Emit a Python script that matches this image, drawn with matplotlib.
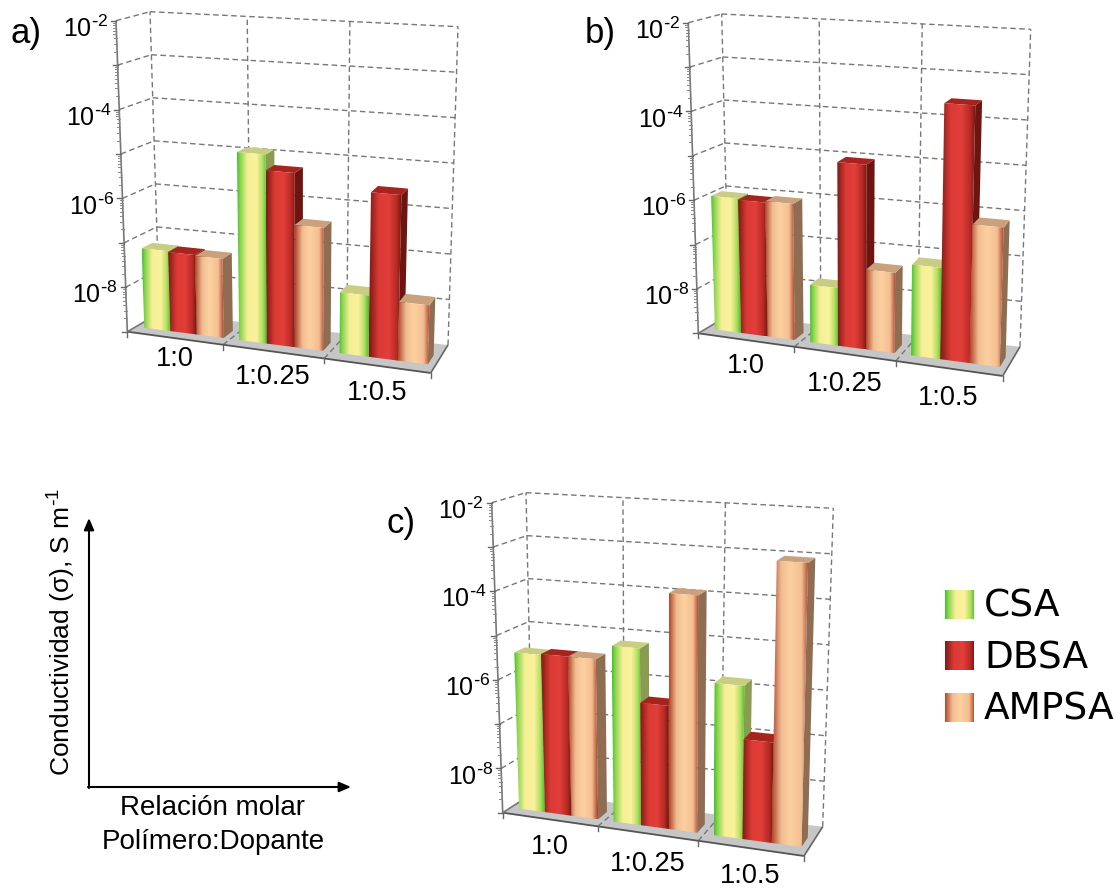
import numpy as np
import matplotlib
matplotlib.use('Agg')
import matplotlib.pyplot as plt
from matplotlib.colors import LinearSegmentedColormap
from matplotlib.patches import Polygon

plt.rcParams['font.family'] = ['Liberation Sans', 'DejaVu Sans']
plt.rcParams['mathtext.default'] = 'regular'

groups = ['1:0', '1:0.25', '1:0.5']
dopants = ['CSA', 'DBSA', 'AMPSA']

# log10 of conductivity, rows are groups, columns are dopants
log_sigma_a = [[-7.20, -7.22, -7.24], [-4.83, -5.18, -6.32], [-7.68, -5.45, -7.74]]
log_sigma_b = [[-5.97, -6.00, -5.97], [-7.73, -4.95, -7.25], [-7.03, -3.48, -6.03]]
log_sigma_c = [[-5.45, -5.43, -5.43], [-5.10, -6.30, -3.83], [-5.70, -6.85, -2.96]]

major_exp = [-2, -4, -6, -8]
log_min, log_max = -9, -2

# box corners in pixels: front/back, left/right, bottom/top
box_a = dict(flb=(127.3, 331.7), flt=(116.0, 20.7), blb=(159.5, 313.0), blt=(150.0, 11.7),
             frb=(430.7, 373.0), brb=(448.0, 345.0), brt=(458.0, 26.7))
box_b = dict(flb=(698.3, 333.3), flt=(688.3, 22.7), blb=(729.0, 315.0), blt=(721.7, 14.0),
             frb=(1002.7, 376.0), brb=(1020.0, 346.7), brt=(1030.7, 29.3))
box_c = dict(flb=(502.7, 812.7), flt=(491.7, 502.7), blb=(532.7, 793.3), blt=(526.0, 492.7),
             frb=(804.0, 856.0), brb=(822.7, 826.7), brt=(833.3, 508.3))

cmaps = {
    'CSA': LinearSegmentedColormap.from_list('csa', [(0, '#3fc42a'), (0.12, '#8fd64f'), (0.35, '#f5ef96'),
                                                     (0.65, '#fbf39c'), (0.85, '#b5de62'), (1, '#3fc42a')]),
    'DBSA': LinearSegmentedColormap.from_list('dbsa', [(0, '#7c1a14'), (0.3, '#dc3a35'), (0.6, '#e23e3a'),
                                                       (0.85, '#b52a24'), (1, '#6f1610')]),
    'AMPSA': LinearSegmentedColormap.from_list('ampsa', [(0, '#b2472c'), (0.25, '#f0bd92'), (0.5, '#fdd0a0'),
                                                         (0.8, '#f3bf92'), (1, '#ad3f26')]),
}
top_cols = {'CSA': '#c9cd83', 'DBSA': '#a5241e', 'AMPSA': '#c9a17c'}
side_cols = {'CSA': '#8b9c52', 'DBSA': '#6d1510', 'AMPSA': '#8f6d52'}

bar_start, bar_w = 0.09, 0.28
d_front, d_back = 0.27, 0.60

fig = plt.figure(figsize=(11.16, 8.88), dpi=100)
ax = fig.add_axes([0, 0, 1, 1])
z = [1]


def next_z():
    z[0] += 1
    return z[0]


def proj(box, x, d, v):
    # x in groups (0-3), d depth 0-1, v log10 value
    u = x / 3.0
    u = u * (0.92 + 0.08 * u)
    w = (v - log_min) / (log_max - log_min)
    out = []
    for i in (0, 1):
        fb = box['flb'][i] + (box['frb'][i] - box['flb'][i]) * u
        ft = box['flt'][i] + (box['frt'][i] - box['flt'][i]) * u
        bb = box['blb'][i] + (box['brb'][i] - box['blb'][i]) * u
        bt = box['blt'][i] + (box['brt'][i] - box['blt'][i]) * u
        bot = fb + (bb - fb) * d
        top = ft + (bt - ft) * d
        out.append(bot + (top - bot) * w)
    return out


def seg(box, a, b, **kw):
    p, q = proj(box, *a), proj(box, *b)
    ax.plot([p[0], q[0]], [p[1], q[1]], zorder=next_z(), solid_capstyle='butt', **kw)


def gradient_quad(pts, cmap):
    xs = [p[0] for p in pts]
    ys = [p[1] for p in pts]
    grad = np.linspace(0, 1, 256).reshape(1, -1)
    im = ax.imshow(grad, cmap=cmap, extent=(min(xs), max(xs), max(ys), min(ys)), aspect='auto',
                   interpolation='bilinear', zorder=next_z())
    im.set_clip_path(Polygon(pts, closed=True, transform=ax.transData))


def draw_bar(box, x0, x1, v, name):
    base = log_min
    side = [proj(box, x1, d_front, base), proj(box, x1, d_back, base),
            proj(box, x1, d_back, v), proj(box, x1, d_front, v)]
    ax.add_patch(Polygon(side, closed=True, fc=side_cols[name], ec='none', zorder=next_z()))
    top = [proj(box, x0, d_front, v), proj(box, x1, d_front, v),
           proj(box, x1, d_back, v), proj(box, x0, d_back, v)]
    ax.add_patch(Polygon(top, closed=True, fc=top_cols[name], ec='none', zorder=next_z()))
    front = [proj(box, x0, d_front, base), proj(box, x1, d_front, base),
             proj(box, x1, d_front, v), proj(box, x0, d_front, v)]
    gradient_quad(front, cmaps[name])


def draw_panel(box, values, letter, letter_xy, label_drop):
    # hidden front right top corner, from the back wall proportions
    w_top = (box['brt'][0] - box['blt'][0]) / (box['brb'][0] - box['blb'][0])
    dx = (box['frb'][0] - box['flb'][0]) * w_top
    box['frt'] = (box['flt'][0] + dx, box['flt'][1] + dx * 0.06)

    dash = dict(color='#777777', lw=1.0, ls=(0, (4, 2.5)))
    solid = dict(color='#777777', lw=1.2)

    floor = [proj(box, 0, 0, log_min), proj(box, 3, 0, log_min), proj(box, 3, 1, log_min), proj(box, 0, 1, log_min)]
    ax.add_patch(Polygon(floor, closed=True, fc='#c6c6c6', ec='none', zorder=next_z()))

    # walls
    for e in range(log_min, log_max + 1):
        if e > log_min:
            seg(box, (0, 0, e), (0, 1, e), **dash)
            seg(box, (0, 1, e), (3, 1, e), **dash)
    for g in range(0, 4):
        seg(box, (g, 1, log_min), (g, 1, log_max), **dash)
    for g in (1, 2):
        seg(box, (g, 0, log_min), (g, 1, log_min), **dash)

    # axes and ticks
    seg(box, (0, 0, log_min), (0, 0, log_max), **solid)
    seg(box, (0, 0, log_min), (3, 0, log_min), color='#555555', lw=1.3)
    seg(box, (0, 0, log_min), (0, 1, log_min), **solid)
    seg(box, (3, 0, log_min), (3, 1, log_min), color='#666666', lw=1.2)
    for g in range(0, 4):
        p = proj(box, g, 0, log_min)
        ax.plot([p[0], p[0]], [p[1], p[1] + 5], color='#666666', lw=1.0, zorder=next_z())
    for e in range(log_min, log_max + 1):
        p = proj(box, 0, 0, e)
        ax.plot([p[0] - 5, p[0]], [p[1], p[1]], color='#666666', lw=1.0, zorder=next_z())
        if e < log_max:
            for m in range(2, 10):
                q = proj(box, 0, 0, e + np.log10(m))
                ax.plot([q[0] - 3, q[0]], [q[1], q[1]], color='#888888', lw=0.7, zorder=next_z())

    # bars, left to right so each one hides the side of the previous one
    for g in range(len(groups)):
        for j, name in enumerate(dopants):
            x0 = g + bar_start + j * bar_w
            draw_bar(box, x0, x0 + bar_w, values[g][j], name)

    for e in major_exp:
        p = proj(box, 0, 0, e)
        ax.text(p[0] - 8, p[1] + 8, r'$10^{\text{-}%d}$' % abs(e), ha='right', va='center', fontsize=18,
                zorder=next_z())
    for g, lab in enumerate(groups):
        p = proj(box, g + 0.5, 0, log_min)
        ax.text(p[0], p[1] + label_drop[g], lab, ha='center', va='center', fontsize=19.5, zorder=next_z())
    ax.text(letter_xy[0], letter_xy[1], letter, ha='left', va='center', fontsize=25, zorder=next_z())


draw_panel(box_a, log_sigma_a, 'a)', (11, 33), (21, 25, 27))
draw_panel(box_b, log_sigma_b, 'b)', (585, 33), (26, 30, 30))
draw_panel(box_c, log_sigma_c, 'c)', (387, 523), (28, 31, 28))

# arrow sketch on the left
ax.annotate('', xy=(89, 518), xytext=(89, 788), zorder=next_z(),
            arrowprops=dict(arrowstyle='-|>,head_length=0.7,head_width=0.3', color='black', lw=1.5,
                            shrinkA=0, shrinkB=0))
ax.annotate('', xy=(351, 787), xytext=(88, 787), zorder=next_z(),
            arrowprops=dict(arrowstyle='-|>,head_length=0.7,head_width=0.3', color='black', lw=1.5,
                            shrinkA=0, shrinkB=0))
ax.text(62, 632, r'Conductividad ($\sigma$), S m$^{\text{-}1}$', rotation=90, ha='center', va='center',
        fontsize=19, zorder=next_z())
ax.text(213, 808, 'Relación molar', ha='center', va='center', fontsize=20, zorder=next_z())
ax.text(213, 842, 'Polímero:Dopante', ha='center', va='center', fontsize=20, zorder=next_z())

# legend
for name, y0 in zip(dopants, [589.5, 641, 692.7]):
    gradient_quad([(944.5, y0), (974, y0), (974, y0 + 29.5), (944.5, y0 + 29.5)], cmaps[name])
    ax.text(984, y0 + 17, name, ha='left', va='center', fontsize=27, family='DejaVu Sans', zorder=next_z())

ax.set_xlim(0, 1116)
ax.set_ylim(888, 0)
ax.axis('off')
fig.savefig('out.png', dpi=100)
